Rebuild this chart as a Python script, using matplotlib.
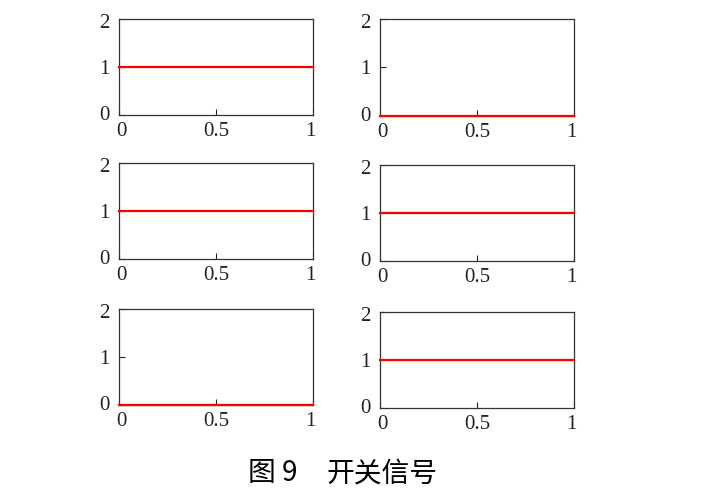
import matplotlib.pyplot as plt
from matplotlib.transforms import ScaledTranslation

plt.rcParams['font.family'] = ['Liberation Serif', 'DejaVu Serif']

x = [0, 1]
signals = [1, 0, 1, 1, 0, 1]  # row by row: left, right
xticks = [0, 0.5, 1]
xlabels = ['0', '0.5', '1']
yticks = [0, 1, 2]

# axes boxes in pixels: left, top, right, bottom
boxes = [(119, 19, 313, 115), (380, 19, 574, 116),
         (119, 163, 313, 259), (380, 165, 574, 261),
         (119, 309, 313, 405), (380, 312, 574, 408)]

W, H = 702, 494
fig = plt.figure(figsize=(W / 100, H / 100), dpi=100)

def nudge(label, dx, dy):
    # shift a tick label by a few pixels
    label.set_transform(label.get_transform() +
                        ScaledTranslation(dx / 100, dy / 100, fig.dpi_scale_trans))

for (l, t, r, b), s in zip(boxes, signals):
    ax = fig.add_axes([l / W, 1 - b / H, (r - l) / W, (b - t) / H])
    ax.plot(x, [s, s], color='red', lw=1.6, clip_on=False, zorder=3)
    ax.set_xlim(0, 1)
    ax.set_ylim(0, 2)
    ax.set_xticks(xticks)
    ax.set_xticklabels(xlabels)
    ax.set_yticks(yticks)
    ax.tick_params(direction='in', length=4, width=0.8, labelsize=15,
                   colors='#222222')
    ax.tick_params(axis='x', pad=5)
    ax.tick_params(axis='y', pad=7)
    for sp in ax.spines.values():
        sp.set_linewidth(0.9)
        sp.set_color('#333333')
    xl = ax.get_xticklabels()
    nudge(xl[0], 2.5, 0)
    nudge(xl[-1], -2.5, 0)
    yl = ax.get_yticklabels()
    nudge(yl[0], 0, 2)
    nudge(yl[-1], 0, -2)

cjk = ['Noto Sans CJK SC', 'DejaVu Sans']
fig.text(248 / W, 1 - 473 / H, '图 9', fontsize=20, ha='left', va='center', family=cjk)
fig.text(327 / W, 1 - 473 / H, '开关信号', fontsize=20, ha='left', va='center', family=cjk)

fig.savefig('out.png', dpi=100)
